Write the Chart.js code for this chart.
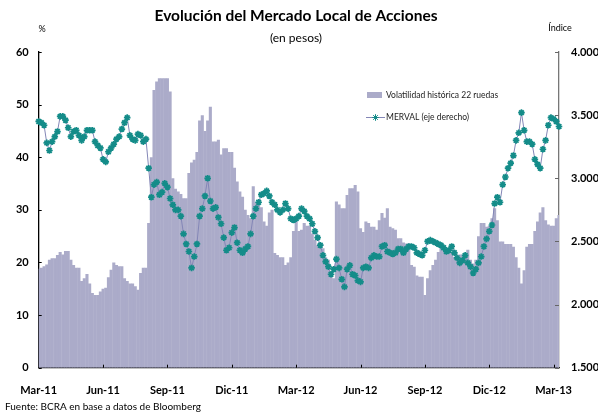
<!DOCTYPE html>
<html><head><meta charset="utf-8">
<script src="https://cdn.jsdelivr.net/npm/chart.js@4/dist/chart.umd.min.js"></script>
<style>html,body{margin:0;padding:0;background:#fff}canvas{display:block}</style>
</head><body>
<canvas id="c" width="598" height="413"></canvas>
<script>
// Quarter tick labels on the time axis
const quarterLabels = ['Mar-11','Jun-11','Sep-11','Dic-11','Mar-12','Jun-12','Sep-12','Dic-12','Mar-13'];
const stepsPerQuarter = 24; // samples per quarter (about two per week)

// Volatilidad histórica 22 ruedas (%, left axis)
const volatility = [
  18.8,19,19.3,19.6,20.5,20.8,20.8,21.4,22,21.5,
  22.2,22.2,20.5,19.5,19,19,16.5,17,17.8,16,
  14.2,13.8,13.8,14.5,15,15.2,17.2,18.6,20,19.5,
  19.3,19.3,17,16.5,16,16,15.5,14.8,18,19,
  19,27.5,40,52.8,54.4,55,55,55,55,52.5,
  36,34,33.5,33,32.2,32.2,37,39,39.5,41,
  47,48,45,47,49.6,43,43,43.3,40.5,41.7,
  41.7,41,41,38,35.4,33.5,32.5,30,29,28.4,
  34.5,31.5,31,30.5,27.8,27,29.5,30,21.8,21.4,
  21,21,19.5,20,21,26,28,26,26.2,27.5,
  27,27,25.5,24.3,23.3,23.3,22.7,21,20.5,17.3,
  17,31.6,31,30.3,30.3,32.8,34.1,34.1,34.7,33.5,
  26.5,25.8,27.8,27.5,26.8,26.8,26.2,28,29.4,28.5,
  30.3,26.8,26.5,26.2,24.6,24.6,23.8,23.6,23.6,19.5,
  19.2,17.5,17.3,17.3,13.8,17,18.5,19.5,20.5,22,
  23.6,22.8,22.5,22.5,22,21,20.8,21.5,21.5,21.8,
  22.4,20.5,19.8,20.5,25,27.5,27.5,26.8,27,28.4,
  30.3,28,24,24,23.5,23.5,23.5,23,21,19,
  16,18.5,23,23.5,23.5,26,27.8,29.5,30.5,28,
  27.2,27,27,28.4,29
];

// MERVAL (index, right axis)
const merval = [
  3450,3440,3420,3280,3220,3290,3330,3370,3490,3490,
  3460,3400,3330,3370,3380,3340,3300,3330,3380,3380,
  3380,3290,3260,3240,3150,3130,3210,3240,3270,3310,
  3330,3390,3440,3480,3340,3310,3300,3350,3340,3290,
  3310,3080,2850,2950,2970,2870,2890,2960,2930,2840,
  2790,2750,2750,2700,2560,2480,2420,2290,2380,2480,
  2700,2760,2860,3000,2820,2760,2770,2690,2640,2530,
  2430,2450,2570,2610,2490,2430,2410,2440,2460,2560,
  2700,2760,2810,2870,2880,2900,2860,2810,2790,2750,
  2730,2750,2800,2760,2680,2670,2680,2700,2760,2740,
  2700,2680,2640,2580,2530,2470,2390,2340,2300,2240,
  2280,2360,2290,2200,2140,2280,2310,2240,2230,2190,
  2180,2290,2300,2290,2370,2390,2380,2380,2460,2470,
  2420,2410,2400,2410,2440,2440,2410,2440,2460,2460,
  2450,2410,2400,2390,2430,2500,2510,2500,2490,2480,
  2470,2450,2420,2430,2460,2410,2370,2330,2350,2390,
  2330,2300,2250,2280,2330,2380,2460,2520,2580,2630,
  2800,2850,2810,2950,3010,3080,3120,3180,3300,3360,
  3520,3380,3290,3290,3270,3150,3110,3080,3230,3300,
  3420,3480,3470,3450,3410
];

const FONT = 'Lato, "Open Sans", "DejaVu Sans", sans-serif';
const BAR_COLOR = '#ABABC9';
const TEAL = '#148C89';
const LINE_COLOR = '#8386B6';

const labels = volatility.map((_, i) => i % stepsPerQuarter === 0 ? quarterLabels[i / stepsPerQuarter] : '');
const fmtThousands = v => String(v).replace(/\B(?=(\d{3})+$)/, '.');

const decor = {
  id: 'decor',
  afterDraw(chart) {
    const ctx = chart.ctx;
    const ca = chart.chartArea;
    const ys = chart.scales.y, y1 = chart.scales.y1, xs = chart.scales.x;
    ctx.save();
    ctx.fillStyle = '#000';
    ctx.textAlign = 'center';
    ctx.textBaseline = 'middle';
    ctx.font = 'bold 15.5px ' + FONT;
    ctx.fillText('Evolución del Mercado Local de Acciones', 296, 16);
    ctx.font = '12px ' + FONT;
    ctx.fillText('(en pesos)', 296, 38);
    ctx.font = '9px ' + FONT;
    ctx.fillText('%', 42, 29);
    ctx.fillText('Índice', 560, 28);
    ctx.textAlign = 'left';
    ctx.font = '10px ' + FONT;
    ctx.fillText('Fuente: BCRA en base a datos de Bloomberg', 5, 407);

    // inward tick marks
    ctx.lineWidth = 1;
    ctx.strokeStyle = '#000';
    ctx.beginPath();
    for (let v = 0; v <= 60; v += 10) {
      const y = Math.round(ys.getPixelForValue(v)) + 0.5;
      ctx.moveTo(ca.left, y); ctx.lineTo(ca.left + 3, y);
    }
    labels.forEach((l, i) => {
      if (l && i > 0) {
        const x = Math.round(xs.getPixelForValue(i)) + 0.5;
        ctx.moveTo(x, ca.bottom); ctx.lineTo(x, ca.bottom - 3);
      }
    });
    ctx.stroke();
    ctx.strokeStyle = '#666';
    ctx.beginPath();
    for (let v = 1500; v <= 4000; v += 500) {
      const y = Math.round(y1.getPixelForValue(v)) + 0.5;
      ctx.moveTo(ca.right, y); ctx.lineTo(ca.right - 4, y);
    }
    ctx.stroke();

    // legend
    const ds0 = chart.data.datasets[1], ds1 = chart.data.datasets[0];
    ctx.fillStyle = BAR_COLOR;
    ctx.fillRect(367, 92, 15, 6);
    ctx.strokeStyle = LINE_COLOR;
    ctx.lineWidth = 1;
    ctx.beginPath(); ctx.moveTo(366, 117.5); ctx.lineTo(385, 117.5); ctx.stroke();
    ctx.strokeStyle = TEAL;
    ctx.fillStyle = TEAL;
    Chart.helpers.drawPoint(ctx, {pointStyle: 'star', radius: 3.3, borderWidth: 1.7, rotation: 0}, 375.5, 117.5);
    ctx.fillStyle = '#222';
    ctx.font = '8.5px ' + FONT;
    ctx.fillText(ds0.label, 386, 95.5);
    ctx.fillText(ds1.label, 386, 117.5);
    ctx.restore();
  }
};

new Chart(document.getElementById('c'), {
  type: 'bar',
  data: {
    labels: labels,
    datasets: [
      {
        type: 'line', label: 'MERVAL (eje derecho)', data: merval, yAxisID: 'y1',
        borderColor: LINE_COLOR, borderWidth: 1, tension: 0,
        pointStyle: 'star', pointRadius: 3.3, pointBorderWidth: 1.7,
        pointBorderColor: TEAL, pointBackgroundColor: TEAL, order: 0
      },
      {
        type: 'bar', label: 'Volatilidad histórica 22 ruedas', data: volatility, yAxisID: 'y',
        backgroundColor: BAR_COLOR, borderWidth: 0, barPercentage: 1.15, categoryPercentage: 1, order: 1
      }
    ]
  },
  options: {
    responsive: false, animation: false, devicePixelRatio: 1,
    layout: { padding: { top: 52, left: 0, right: 0, bottom: 0 } },
    plugins: { legend: { display: false }, tooltip: { enabled: false }, title: { display: false } },
    scales: {
      x: {
        type: 'category', offset: false,
        grid: { display: false, drawTicks: false },
        border: { display: true, color: '#000', width: 1.3 },
        ticks: {
          autoSkip: false, maxRotation: 0, minRotation: 0, padding: 16, color: '#000',
          font: { family: FONT, size: 11, weight: 'bold' },
          callback: (v, i) => labels[i] || null
        },
        afterFit: s => { s.height = 413 - 367.7; }
      },
      y: {
        position: 'left', min: 0, max: 60,
        grid: { display: false, drawTicks: false },
        border: { display: true, color: '#000', width: 1.3 },
        ticks: { stepSize: 10, padding: 10, color: '#000', font: { family: FONT, size: 11, weight: 'bold' } },
        afterFit: s => { s.width = 38.7; }
      },
      y1: {
        position: 'right', min: 1500, max: 4000,
        grid: { display: false, drawTicks: false },
        border: { display: true, color: '#777', width: 1.3 },
        ticks: { stepSize: 500, padding: 12, color: '#000', font: { family: FONT, size: 11, weight: 'bold' }, callback: v => fmtThousands(v) },
        afterFit: s => { s.width = 39; }
      }
    }
  },
  plugins: [decor]
});
</script>
</body></html>
